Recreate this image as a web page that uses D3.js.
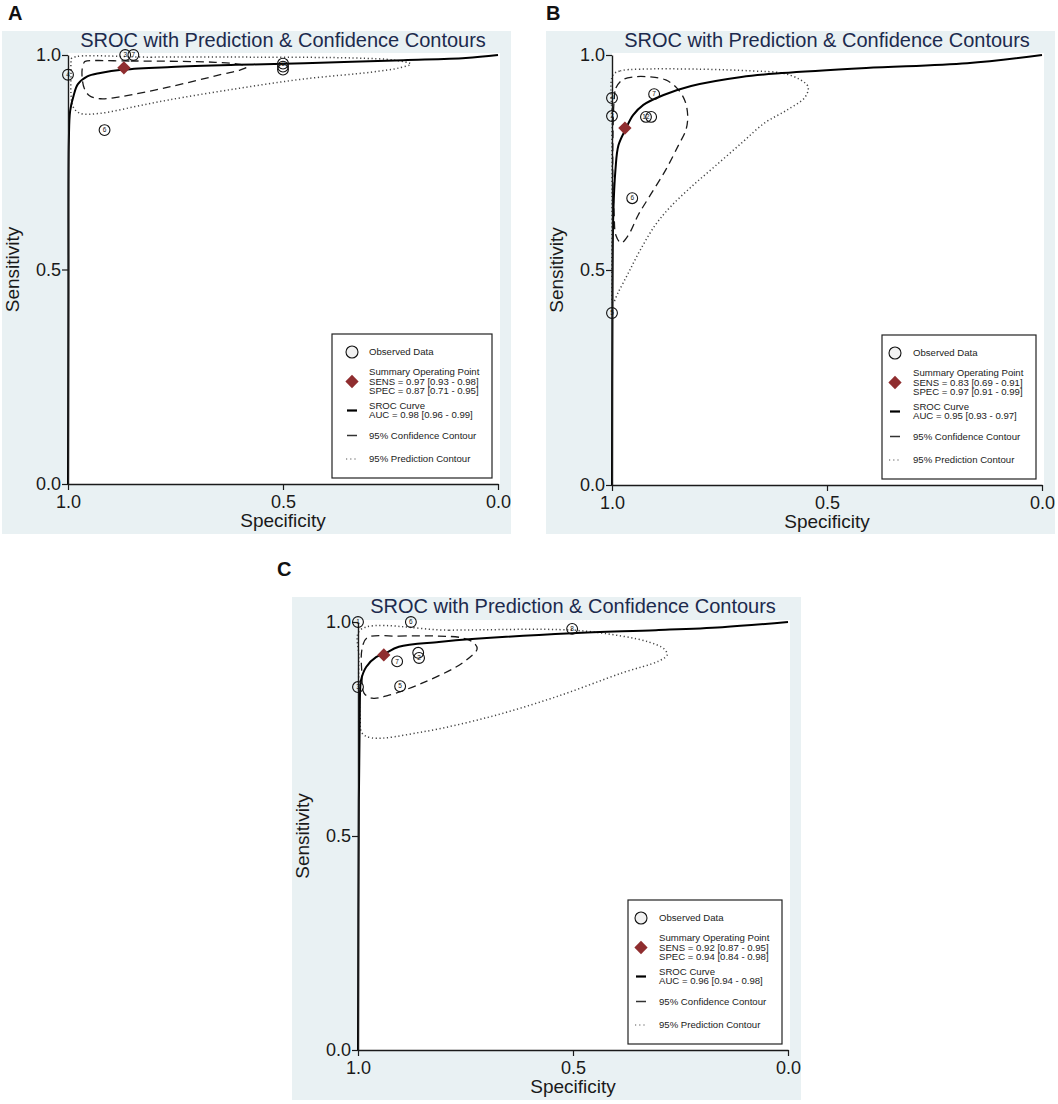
<!DOCTYPE html>
<html>
<head>
<meta charset="utf-8">
<script src="https://cdn.jsdelivr.net/npm/d3@7"></script>
<style>
  body { margin: 0; background: #fff; }
  svg { display: block; font-family: "Liberation Sans", Arial, sans-serif; }
</style>
</head>
<body>
<script>

// ---- data (spec, sens) ----

const specTicks = [1, 0.5, 0];
const sensTicks = [0, 0.5, 1];
const titleText = "SROC with Prediction & Confidence Contours";
const legendNames = ["Observed Data", "Summary Operating Point", "SROC Curve",
                     "95% Confidence Contour", "95% Prediction Contour"];

// panel A  (three studies stacked at spec 0.5, only the top label is readable)
const studiesA = [
  {id: "4", spec: 1.0, sens: 0.954},
  {id: "3", spec: 0.867, sens: 1.0},
  {id: "7", spec: 0.848, sens: 1.0},
  {id: "", spec: 0.5, sens: 0.966},
  {id: "", spec: 0.5, sens: 0.973},
  {id: "8", spec: 0.5, sens: 0.980},
  {id: "6", spec: 0.915, sens: 0.825}
];
const summaryA = {spec: 0.87, sens: 0.97};
const srocA = [[1.0, 0.0], [0.999, 0.43], [0.998, 0.80], [0.995, 0.87], [0.987, 0.905],
               [0.977, 0.932], [0.955, 0.950], [0.925, 0.958], [0.87, 0.966], [0.76, 0.972],
               [0.61, 0.977], [0.45, 0.981], [0.22, 0.988], [0.075, 0.993], [0.0, 1.0]];
const confA = [[0.960, 0.985], [0.854, 0.986], [0.736, 0.985], [0.658, 0.983], [0.600, 0.978],
               [0.585, 0.972], [0.600, 0.965], [0.642, 0.955], [0.767, 0.925], [0.877, 0.903],
               [0.925, 0.898], [0.950, 0.905], [0.962, 0.922], [0.967, 0.945], [0.967, 0.968],
               [0.963, 0.982]];
const predA = [[0.991, 0.993], [0.807, 0.995], [0.571, 0.995], [0.335, 0.993], [0.241, 0.988],
               [0.203, 0.979], [0.229, 0.970], [0.295, 0.960], [0.453, 0.944], [0.611, 0.921],
               [0.767, 0.895], [0.847, 0.879], [0.925, 0.864], [0.972, 0.864], [0.988, 0.879],
               [0.993, 0.909], [0.993, 0.956], [0.993, 0.984]];
const statsA = ["SENS = 0.97 [0.93 - 0.98]", "SPEC = 0.87 [0.71 - 0.95]", "AUC = 0.98 [0.96 - 0.99]"];

// panel B
const studiesB = [
  {id: "4", spec: 1.0, sens: 0.90},
  {id: "3", spec: 1.0, sens: 0.858},
  {id: "7", spec: 0.902, sens: 0.909},
  {id: "", spec: 0.909, sens: 0.856},
  {id: "12", spec: 0.921, sens: 0.856},
  {id: "6", spec: 0.953, sens: 0.667},
  {id: "5", spec: 1.0, sens: 0.40}
];
const summaryB = {spec: 0.97, sens: 0.83};
const srocB = [[1.0, 0.0], [0.999, 0.43], [0.997, 0.63], [0.992, 0.733], [0.985, 0.79],
               [0.968, 0.828], [0.951, 0.86], [0.927, 0.884], [0.88, 0.907], [0.816, 0.928],
               [0.699, 0.949], [0.605, 0.958], [0.409, 0.970], [0.174, 0.981], [0.0, 1.0]];
const confB = [[0.995, 0.895], [0.991, 0.923], [0.976, 0.942], [0.951, 0.949], [0.911, 0.949],
               [0.875, 0.942], [0.849, 0.923], [0.831, 0.895], [0.824, 0.860], [0.828, 0.826],
               [0.845, 0.791], [0.875, 0.733], [0.911, 0.674], [0.939, 0.628], [0.962, 0.581],
               [0.979, 0.563], [0.991, 0.581], [0.995, 0.628], [0.998, 0.709], [0.998, 0.802]];
const predB = [[0.998, 0.953], [0.981, 0.963], [0.934, 0.967], [0.793, 0.967], [0.675, 0.963],
               [0.605, 0.958], [0.565, 0.944], [0.544, 0.926], [0.551, 0.902], [0.593, 0.872],
               [0.645, 0.842], [0.699, 0.795], [0.762, 0.740], [0.816, 0.693], [0.864, 0.647],
               [0.899, 0.605], [0.934, 0.547], [0.962, 0.493], [0.986, 0.447], [0.998, 0.423],
               [1.0, 0.477], [1.0, 0.663], [1.0, 0.849]];
const statsB = ["SENS = 0.83 [0.69 - 0.91]", "SPEC = 0.97 [0.91 - 0.99]", "AUC = 0.95 [0.93 - 0.97]"];

// panel C
const studiesC = [
  {id: "1", spec: 1.0, sens: 1.0},
  {id: "6", spec: 0.877, sens: 1.0},
  {id: "8", spec: 0.502, sens: 0.984},
  {id: "7", spec: 0.909, sens: 0.908},
  {id: "", spec: 0.860, sens: 0.928},
  {id: "2", spec: 0.858, sens: 0.916},
  {id: "5", spec: 0.902, sens: 0.850},
  {id: "3", spec: 1.0, sens: 0.848}
];
const summaryC = {spec: 0.94, sens: 0.923};
const srocC = [[1.0, 0.0], [0.998, 0.584], [0.996, 0.771], [0.995, 0.841], [0.993, 0.864],
               [0.981, 0.895], [0.958, 0.918], [0.940, 0.925], [0.905, 0.942], [0.812, 0.953],
               [0.735, 0.960], [0.502, 0.974], [0.307, 0.981], [0.153, 0.988], [0.0, 1.0]];
const confC = [[0.979, 0.963], [0.905, 0.967], [0.812, 0.967], [0.758, 0.963], [0.730, 0.951],
               [0.723, 0.937], [0.742, 0.916], [0.772, 0.895], [0.851, 0.857], [0.928, 0.829],
               [0.967, 0.822], [0.986, 0.834], [0.991, 0.881], [0.991, 0.935]];
const predC = [[0.995, 0.981], [0.788, 0.981], [0.502, 0.981], [0.386, 0.967], [0.323, 0.953],
               [0.288, 0.937], [0.281, 0.923], [0.300, 0.909], [0.386, 0.881], [0.540, 0.825],
               [0.695, 0.778], [0.851, 0.743], [0.967, 0.729], [0.991, 0.741], [0.995, 0.778],
               [0.998, 0.841], [0.998, 0.918]];
const statsC = ["SENS = 0.92 [0.87 - 0.95]", "SPEC = 0.94 [0.84 - 0.98]", "AUC = 0.96 [0.94 - 0.98]"];

// ---- layout ----

const panels = [
  {letter: "A", lx: 8, ly: 20, bg: [2, 31, 509, 503], left: 68, top: 55, w: 430, h: 429,
   legW: 160, legMx: 20, legTx: 37,
   studies: studiesA, summary: summaryA, sroc: srocA, conf: confA, pred: predA, stats: statsA},
  {letter: "B", lx: 546, ly: 20, bg: [546, 31, 509, 503], left: 612, top: 55, w: 430, h: 430,
   legW: 154, legMx: 13, legTx: 31,
   studies: studiesB, summary: summaryB, sroc: srocB, conf: confB, pred: predB, stats: statsB},
  {letter: "C", lx: 277, ly: 576, bg: [292, 597, 509, 503], left: 358, top: 622, w: 430, h: 428,
   legW: 154, legMx: 13, legTx: 31,
   studies: studiesC, summary: summaryC, sroc: srocC, conf: confC, pred: predC, stats: statsC}
];

const svg = d3.select("body")
              .append("svg")
                .attr("width", 1058)
                .attr("height", 1104);

const ink = "#1a1a1a";
const diamondPath = d3.symbol(d3.symbolSquare, 88)();

function drawPanel(p) {
    const g = svg.append("g");

    g.append("rect")
        .attr("x", p.bg[0]).attr("y", p.bg[1])
        .attr("width", p.bg[2]).attr("height", p.bg[3])
        .attr("fill", "#e9f1f3");

    g.append("text")
        .attr("x", p.lx).attr("y", p.ly)
        .attr("font-size", 20).attr("font-weight", "bold")
        .attr("fill", "#111")
        .text(p.letter);

    // scales
    const x = d3.scaleLinear().domain([1, 0]).range([p.left, p.left + p.w]);
    const y = d3.scaleLinear().domain([0, 1]).range([p.top + p.h, p.top]);

    g.append("rect")
        .attr("x", p.left).attr("y", p.top - 2)
        .attr("width", p.w + 2).attr("height", p.h + 2)
        .attr("fill", "#fff");

    g.append("text")
        .attr("x", p.left + p.w / 2).attr("y", p.bg[1] + 16)
        .attr("text-anchor", "middle")
        .attr("font-size", 20)
        .attr("fill", "#1c2a4d")
        .text(titleText);

    const line = d3.line().x(d => x(d[0])).y(d => y(d[1]));

    g.append("path")
        .attr("d", line.curve(d3.curveCatmullRomClosed)(p.pred))
        .attr("fill", "none").attr("stroke", "#444")
        .attr("stroke-width", 1.5).attr("stroke-dasharray", "1.2,2.6");

    g.append("path")
        .attr("d", line.curve(d3.curveCatmullRomClosed)(p.conf))
        .attr("fill", "none").attr("stroke", ink)
        .attr("stroke-width", 1.3).attr("stroke-dasharray", "8,5");

    g.append("path")
        .attr("d", line.curve(d3.curveCatmullRom)(p.sroc))
        .attr("fill", "none").attr("stroke", "#000")
        .attr("stroke-width", 2);

    // axes
    const yAxis = g.append("g")
        .attr("transform", `translate(${p.left},0)`)
        .call(d3.axisLeft(y).tickValues(sensTicks).tickSize(6).tickSizeOuter(0)
              .tickPadding(1).tickFormat(d3.format(".1f")));
    const xAxis = g.append("g")
        .attr("transform", `translate(0,${p.top + p.h})`)
        .call(d3.axisBottom(x).tickValues(specTicks).tickSize(6).tickSizeOuter(0)
              .tickPadding(5).tickFormat(d3.format(".1f")));
    [yAxis, xAxis].forEach(a => {
        a.select(".domain").attr("stroke", ink).attr("stroke-width", 1.4);
        a.selectAll(".tick line").attr("stroke", ink).attr("stroke-width", 1.2);
        a.selectAll(".tick text").attr("font-size", 18).attr("fill", ink)
            .attr("font-family", "Liberation Sans, Arial, sans-serif");
    });

    g.append("text")
        .attr("transform", `translate(${p.left - 49},${p.top + p.h / 2}) rotate(-90)`)
        .attr("text-anchor", "middle")
        .attr("font-size", 19).attr("fill", ink)
        .text("Sensitivity");
    g.append("text")
        .attr("x", p.left + p.w / 2).attr("y", p.top + p.h + 43)
        .attr("text-anchor", "middle")
        .attr("font-size", 19).attr("fill", ink)
        .text("Specificity");

    // studies
    const pts = g.selectAll(".study")
        .data(p.studies)
        .enter()
        .append("g")
          .attr("transform", d => `translate(${x(d.spec)},${y(d.sens)})`);
    pts.append("circle")
        .attr("r", 5.4)
        .attr("fill", "none").attr("stroke", "#111").attr("stroke-width", 1.1);
    pts.filter(d => d.id !== "")
        .append("text")
        .attr("text-anchor", "middle").attr("dy", "0.35em")
        .attr("font-size", 6.5).attr("fill", "#111")
        .text(d => d.id);

    g.append("path")
        .attr("d", diamondPath)
        .attr("transform", `translate(${x(p.summary.spec)},${y(p.summary.sens)}) rotate(45)`)
        .attr("fill", "#8f2d2f");

    // legend
    const bx = p.left + p.w - 6 - p.legW;
    const by = p.top + p.h - 6 - 144;
    const leg = g.append("g").attr("transform", `translate(${bx},${by})`);
    leg.append("rect")
        .attr("width", p.legW).attr("height", 144)
        .attr("fill", "#fff").attr("stroke", "#222").attr("stroke-width", 1.2);

    const mx = p.legMx, tx = p.legTx;
    leg.append("circle")
        .attr("cx", mx).attr("cy", 18).attr("r", 6)
        .attr("fill", "#f1f1f1").attr("stroke", "#111").attr("stroke-width", 1.1);
    leg.append("path")
        .attr("d", diamondPath)
        .attr("transform", `translate(${mx},47.5) rotate(45)`)
        .attr("fill", "#8f2d2f");
    leg.append("line")
        .attr("x1", mx - 5).attr("x2", mx + 5).attr("y1", 76.5).attr("y2", 76.5)
        .attr("stroke", "#000").attr("stroke-width", 2.2);
    leg.append("line")
        .attr("x1", mx - 5).attr("x2", mx + 5).attr("y1", 101.5).attr("y2", 101.5)
        .attr("stroke", "#333").attr("stroke-width", 1.5);
    leg.append("line")
        .attr("x1", mx - 6).attr("x2", mx + 6).attr("y1", 125).attr("y2", 125)
        .attr("stroke", "#555").attr("stroke-width", 1.2).attr("stroke-dasharray", "1.2,3");

    const rows = [
        [legendNames[0], 18],
        [legendNames[1], 38], [p.stats[0], 47.5], [p.stats[1], 57],
        [legendNames[2], 72], [p.stats[2], 81],
        [legendNames[3], 101.5],
        [legendNames[4], 125]
    ];
    leg.selectAll(".row")
        .data(rows)
        .enter()
        .append("text")
          .attr("x", tx).attr("y", d => d[1] + 3.4)
          .attr("font-size", 9.6).attr("fill", "#222")
          .text(d => d[0]);
}

panels.forEach(drawPanel);

</script>
</body>
</html>
